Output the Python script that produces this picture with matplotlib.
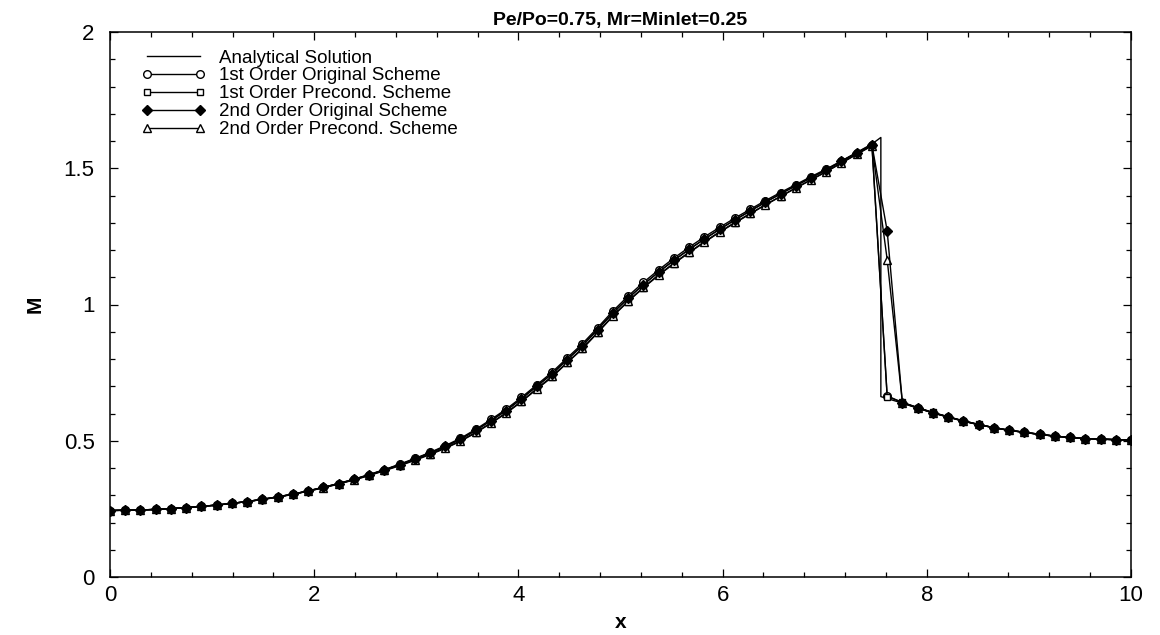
import numpy as np
import matplotlib
matplotlib.use("Agg")
import matplotlib.pyplot as plt
from matplotlib.ticker import MultipleLocator, FixedLocator

plt.rcParams['font.family'] = ['Liberation Sans', 'DejaVu Sans']

# Grid of the numerical solution (68 nodes on 0..10)
x_grid = np.linspace(0.0, 10.0, 68)

m_1st_orig = [0.244, 0.245, 0.246, 0.248, 0.251, 0.255, 0.259, 0.264, 0.270, 0.277,
              0.285, 0.294, 0.304, 0.316, 0.329, 0.343, 0.359, 0.376, 0.394, 0.414,
              0.435, 0.457, 0.482, 0.509, 0.542, 0.578, 0.616, 0.659, 0.705, 0.751,
              0.804, 0.856, 0.915, 0.976, 1.031, 1.081, 1.127, 1.170, 1.210, 1.248,
              1.283, 1.317, 1.349, 1.381, 1.411, 1.440, 1.469, 1.497, 1.527, 1.557,
              1.586, 0.665, 0.640, 0.621, 0.603, 0.587, 0.572, 0.559, 0.548, 0.538,
              0.531, 0.523, 0.517, 0.512, 0.508, 0.506, 0.504, 0.503]

m_1st_precond = [0.244, 0.245, 0.246, 0.248, 0.251, 0.255, 0.259, 0.264, 0.270, 0.277,
                 0.284, 0.293, 0.303, 0.315, 0.327, 0.341, 0.356, 0.372, 0.390, 0.408,
                 0.428, 0.449, 0.472, 0.498, 0.529, 0.564, 0.601, 0.643, 0.689, 0.733,
                 0.786, 0.837, 0.896, 0.957, 1.011, 1.061, 1.107, 1.150, 1.190, 1.228,
                 1.265, 1.299, 1.332, 1.365, 1.396, 1.427, 1.457, 1.487, 1.519, 1.551,
                 1.582, 0.662, 0.641, 0.622, 0.604, 0.588, 0.573, 0.560, 0.548, 0.539,
                 0.531, 0.524, 0.517, 0.512, 0.508, 0.506, 0.504, 0.503]

m_2nd_orig = [0.244, 0.245, 0.246, 0.248, 0.251, 0.255, 0.259, 0.264, 0.270, 0.277,
              0.285, 0.294, 0.304, 0.316, 0.329, 0.343, 0.358, 0.375, 0.393, 0.412,
              0.433, 0.455, 0.479, 0.506, 0.538, 0.574, 0.611, 0.654, 0.700, 0.745,
              0.798, 0.849, 0.908, 0.969, 1.023, 1.073, 1.119, 1.162, 1.202, 1.240,
              1.276, 1.310, 1.343, 1.375, 1.406, 1.436, 1.465, 1.494, 1.525, 1.556,
              1.586, 1.270, 0.638, 0.620, 0.602, 0.587, 0.572, 0.559, 0.548, 0.538,
              0.531, 0.523, 0.517, 0.512, 0.508, 0.506, 0.504, 0.503]

m_2nd_precond = [0.244, 0.245, 0.246, 0.248, 0.251, 0.255, 0.259, 0.264, 0.270, 0.277,
                 0.285, 0.294, 0.304, 0.315, 0.328, 0.342, 0.357, 0.373, 0.391, 0.410,
                 0.430, 0.451, 0.474, 0.500, 0.531, 0.566, 0.603, 0.645, 0.691, 0.736,
                 0.788, 0.839, 0.898, 0.959, 1.013, 1.063, 1.109, 1.152, 1.192, 1.230,
                 1.267, 1.301, 1.334, 1.366, 1.397, 1.428, 1.458, 1.488, 1.520, 1.552,
                 1.583, 1.165, 0.640, 0.621, 0.603, 0.588, 0.573, 0.560, 0.548, 0.539,
                 0.531, 0.524, 0.517, 0.512, 0.508, 0.506, 0.504, 0.503]

# Exact solution: smooth branch up to the shock, jump at x_shock, smooth branch after
x_shock = 7.55
m_exact_pre = [0.244, 0.245, 0.246, 0.248, 0.251, 0.255, 0.259, 0.264, 0.270, 0.277,
               0.285, 0.294, 0.304, 0.316, 0.329, 0.343, 0.358, 0.375, 0.393, 0.412,
               0.433, 0.455, 0.479, 0.506, 0.538, 0.574, 0.611, 0.654, 0.700, 0.745,
               0.798, 0.849, 0.908, 0.969, 1.023, 1.073, 1.119, 1.162, 1.202, 1.240,
               1.276, 1.310, 1.343, 1.375, 1.406, 1.436, 1.465, 1.494, 1.526, 1.558,
               1.589]
m_exact_shock = [1.613, 0.662]
m_exact_post = [0.655, 0.638, 0.620, 0.602, 0.587, 0.572, 0.559, 0.548, 0.538,
                0.531, 0.523, 0.517, 0.512, 0.508, 0.506, 0.504, 0.503]

x_exact = np.concatenate([x_grid[:len(m_exact_pre)], [x_shock, x_shock],
                          x_grid[len(m_exact_pre):]])
m_exact = np.concatenate([m_exact_pre, m_exact_shock, m_exact_post])

labels = ["Analytical Solution", "1st Order Original Scheme",
          "1st Order Precond. Scheme", "2nd Order Original Scheme",
          "2nd Order Precond. Scheme"]

fig = plt.figure(figsize=(11.6, 6.35), dpi=100)
ax = fig.add_axes([110 / 1160, 1 - 577 / 635, 1021 / 1160, 545 / 635])

lw = 1.0
mew = 1.0
ax.plot(x_exact, m_exact, color='black', lw=lw, label=labels[0], zorder=2)
ax.plot(x_grid, m_1st_orig, color='black', lw=lw, marker='o', ms=5.5,
        mfc='white', mec='black', mew=mew, label=labels[1], zorder=3)
ax.plot(x_grid, m_1st_precond, color='black', lw=lw, marker='s', ms=5,
        mfc='white', mec='black', mew=mew, label=labels[2], zorder=3)
ax.plot(x_grid, m_2nd_orig, color='black', lw=lw, marker='D', ms=4.8,
        mfc='black', mec='black', mew=mew, label=labels[3], zorder=5)
ax.plot(x_grid, m_2nd_precond, color='black', lw=lw, marker='^', ms=6,
        mfc='white', mec='black', mew=mew, label=labels[4], zorder=4)

ax.set_xlim(0, 10)
ax.set_ylim(0, 2)
ax.xaxis.set_major_locator(FixedLocator([0, 2, 4, 6, 8, 10]))
ax.xaxis.set_minor_locator(MultipleLocator(0.4))
ax.yaxis.set_major_locator(FixedLocator([0, 0.5, 1, 1.5, 2]))
ax.yaxis.set_minor_locator(MultipleLocator(0.1))
ax.set_xticklabels(["0", "2", "4", "6", "8", "10"])
ax.set_yticklabels(["0", "0.5", "1", "1.5", "2"])
ax.tick_params(which='both', direction='in', top=True, right=True,
               labelsize=16, width=0.9)
ax.tick_params(which='major', length=6)
ax.tick_params(which='minor', length=3.5)
ax.tick_params(axis='x', pad=6)
ax.tick_params(axis='y', pad=11)
for s in ax.spines.values():
    s.set_linewidth(1.1)

ax.set_xlabel("x", fontsize=15, fontweight='bold', labelpad=5)
ax.set_ylabel("M", fontsize=15, fontweight='bold', labelpad=14)
ax.set_title("Pe/Po=0.75, Mr=Minlet=0.25", fontsize=14, fontweight='bold', pad=5)

ax.legend(loc='upper left', bbox_to_anchor=(0.031, 0.968), frameon=False,
          fontsize=13.5, numpoints=2, handlelength=3.4, handletextpad=0.75,
          labelspacing=0.04, borderpad=0, borderaxespad=0)

fig.savefig("out.png", dpi=100)
